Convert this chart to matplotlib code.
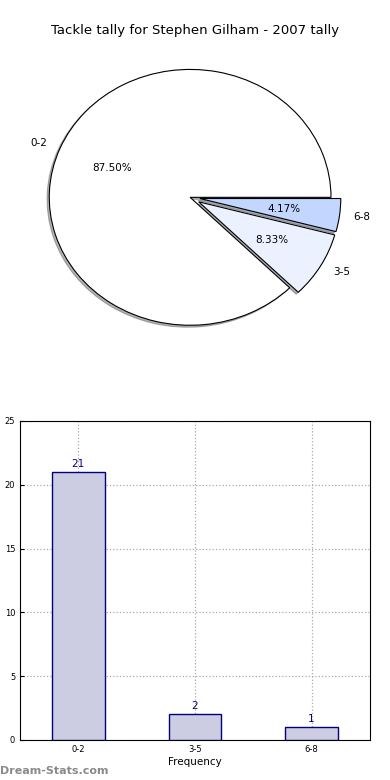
#!/usr/bin/env python3
import matplotlib
matplotlib.use('Agg')
import matplotlib.pyplot as plt

# tackle tally data
ranges = ['0-2', '3-5', '6-8']
games = [21, 2, 1]
slice_colors = ['#FFFFFF', '#EBF1FF', '#C2D6FF']
explode = [0, 0.07, 0.07]


def plot():
    fig = plt.figure(figsize=(3.9, 7.8), dpi=100)

    # pie on top
    ax1 = fig.add_axes([0.036, 0.542, 0.903, 0.410])
    wedges, texts, autotexts = ax1.pie(
        games, labels=ranges, colors=slice_colors, explode=explode,
        autopct='%1.2f%%', startangle=0,
        shadow={'ox': -0.011, 'oy': -0.011, 'shade': 0.6},
        wedgeprops={'edgecolor': 'black', 'linewidth': 0.8},
        textprops={'fontsize': 7.5})
    ax1.set_aspect('auto')
    ax1.set_xlim(-1.25, 1.25)
    ax1.set_ylim(-1.25, 1.25)
    ax1.set_axis_off()
    fig.text(0.5, 0.961, 'Tackle tally for Stephen Gilham - 2007 tally',
             ha='center', va='center', fontsize=9.5)

    # bar chart below
    ax2 = fig.add_axes([0.0513, 0.0513, 0.897, 0.409])
    x = range(len(ranges))
    ax2.bar(x, games, width=0.45, color='#CCCCE3', edgecolor='#000080',
            linewidth=1, zorder=3)
    for i, v in zip(x, games):
        ax2.text(i, v + 0.25, str(v), ha='center', va='bottom',
                 color='#000080', fontsize=7.5, zorder=4)
    ax2.set_xlim(-0.5, 2.5)
    ax2.set_ylim(0, 25)
    ax2.set_xticks(list(x))
    ax2.set_xticklabels(ranges)
    ax2.set_yticks([0, 5, 10, 15, 20, 25])
    ax2.tick_params(direction='in', labelsize=6, length=3)
    ax2.grid(linestyle=':', color='#aaaaaa', linewidth=0.9, zorder=0)
    ax2.set_axisbelow(True)
    ax2.set_xlabel('Frequency', fontsize=7.5, labelpad=2)
    ax2.set_ylabel('Occurrences', fontsize=7.5)
    ax2.yaxis.set_label_coords(-0.075, 0.5)

    fig.text(0.0, 0.005, 'Dream-Stats.com', ha='left', va='bottom',
             fontsize=8, color='#8a8a8a', fontweight='bold')

    fig.savefig('out.png', dpi=100)
    plt.close(fig)


if __name__ == "__main__":
    plot()
